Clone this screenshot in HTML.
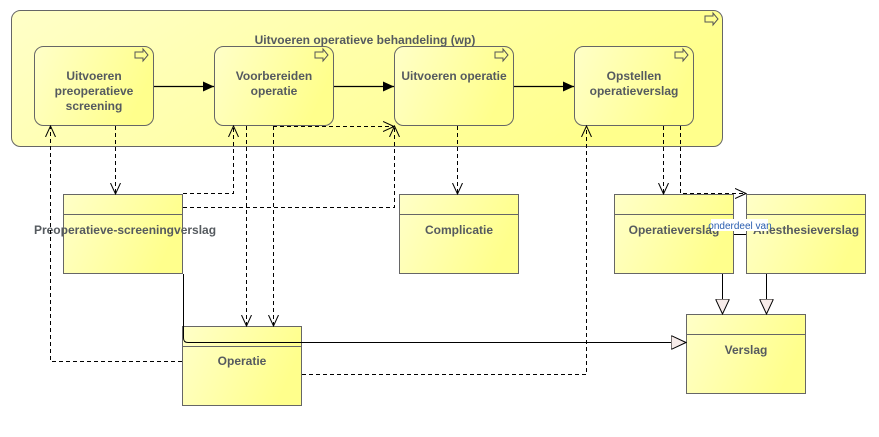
<!DOCTYPE html>
<html><head><meta charset="utf-8"><style>
html,body{margin:0;padding:0;background:#fff;}
svg{display:block;font-family:"Liberation Sans",sans-serif;}
.t{font-size:12px;font-weight:bold;fill:#555a5f;text-anchor:middle;}
</style></head><body>
<svg width="879" height="437" viewBox="0 0 879 437" xmlns="http://www.w3.org/2000/svg">
<defs>
<linearGradient id="g" x1="0" y1="0" x2="1" y2="0.3">
<stop offset="0" stop-color="#ffffc8"/><stop offset="1" stop-color="#ffff8c"/></linearGradient>
<marker id="open" viewBox="0 0 12 12" refX="11" refY="6" markerWidth="12" markerHeight="12" markerUnits="userSpaceOnUse" orient="auto">
<path d="M0,1 L11,6 L0,11" fill="none" stroke="#000" stroke-width="1"/></marker>
<marker id="fill" viewBox="0 0 12 10" refX="11" refY="5" markerWidth="12" markerHeight="10" markerUnits="userSpaceOnUse" orient="auto">
<path d="M0,0 L11,5 L0,10 z" fill="#000"/></marker>
<marker id="tri" viewBox="0 0 16 14" refX="15" refY="7" markerWidth="16" markerHeight="14" markerUnits="userSpaceOnUse" orient="auto">
<path d="M0,0 L15,7 L0,14 z" fill="#f7ecea" stroke="#000" stroke-width="1"/></marker>
</defs>

<!-- group -->
<rect x="11.5" y="10.5" width="711" height="136" rx="9" fill="url(#g)" stroke="#666" />
<path d="M705,16 h8 v-3 l5,6 l-5,6 v-3 h-8 z" fill="none" stroke="#555"/>
<text class="t" x="365" y="44">Uitvoeren operatieve behandeling (wp)</text>

<!-- processes -->
<g stroke="#666" fill="url(#g)">
<rect x="34.5" y="46.5" width="119" height="79" rx="9"/>
<rect x="214.5" y="46.5" width="119" height="79" rx="9"/>
<rect x="394.5" y="46.5" width="119" height="79" rx="9"/>
<rect x="574.5" y="46.5" width="119" height="79" rx="9"/>
</g>
<g fill="none" stroke="#555">
<path d="M135,52 h8 v-3 l5,6 l-5,6 v-3 h-8 z"/>
<path d="M315,52 h8 v-3 l5,6 l-5,6 v-3 h-8 z"/>
<path d="M495,52 h8 v-3 l5,6 l-5,6 v-3 h-8 z"/>
<path d="M675,52 h8 v-3 l5,6 l-5,6 v-3 h-8 z"/>
</g>
<text class="t" x="94" y="80">Uitvoeren</text>
<text class="t" x="94" y="95">preoperatieve</text>
<text class="t" x="94" y="110">screening</text>
<text class="t" x="274" y="80">Voorbereiden</text>
<text class="t" x="274" y="95">operatie</text>
<text class="t" x="454" y="80">Uitvoeren operatie</text>
<text class="t" x="634" y="80">Opstellen</text>
<text class="t" x="634" y="95">operatieverslag</text>

<g stroke="#000" stroke-width="1.2" fill="none">
<line x1="154" y1="86.5" x2="214" y2="86.5" marker-end="url(#fill)"/>
<line x1="334" y1="86.5" x2="394" y2="86.5" marker-end="url(#fill)"/>
<line x1="514" y1="86.5" x2="574" y2="86.5" marker-end="url(#fill)"/>
</g>

<!-- objects -->
<g stroke="#666" fill="url(#g)">
<rect x="63.5" y="194.5" width="119" height="79"/>
<rect x="399.5" y="194.5" width="119" height="79"/>
<rect x="614.5" y="194.5" width="119" height="79"/>
<rect x="746.5" y="194.5" width="119" height="79"/>
<rect x="686.5" y="314.5" width="119" height="79"/>
<rect x="182.5" y="326.5" width="119" height="79"/>
</g>
<g stroke="#666">
<line x1="63" y1="214.5" x2="183" y2="214.5"/>
<line x1="399" y1="214.5" x2="519" y2="214.5"/>
<line x1="614" y1="214.5" x2="734" y2="214.5"/>
<line x1="746" y1="214.5" x2="866" y2="214.5"/>
<line x1="686" y1="334.5" x2="806" y2="334.5"/>
<line x1="182" y1="346.5" x2="302" y2="346.5"/>
</g>
<text class="t" x="125" y="234">Preoperatieve-screeningverslag</text>
<text class="t" x="459" y="234">Complicatie</text>
<text class="t" x="674" y="234">Operatieverslag</text>
<text class="t" x="806" y="234">Anesthesieverslag</text>
<text class="t" x="746" y="354">Verslag</text>
<text class="t" x="242" y="365">Operatie</text>

<!-- dashed connectors -->
<g stroke="#000" stroke-width="1" fill="none" stroke-dasharray="4,3">
<line x1="115.5" y1="126" x2="115.5" y2="194" marker-end="url(#open)"/>
<path d="M183,193.5 H233.5 V126" marker-end="url(#open)"/>
<path d="M183,207.5 H394.5 V126" marker-end="url(#open)"/>
<path d="M273.5,126 V126.5 H394" marker-end="url(#open)"/>
<line x1="246.5" y1="126" x2="246.5" y2="326" marker-end="url(#open)"/>
<line x1="273.5" y1="126" x2="273.5" y2="326" marker-end="url(#open)"/>
<path d="M182,361.5 H50.5 V126" marker-end="url(#open)"/>
<path d="M302,374.5 H586.5 V126" marker-end="url(#open)"/>
<line x1="457.5" y1="126" x2="457.5" y2="194" marker-end="url(#open)"/>
<line x1="663.5" y1="126" x2="663.5" y2="194" marker-end="url(#open)"/>
<path d="M680.5,126 V193.5 H746" marker-end="url(#open)"/>
</g>

<!-- solid connectors -->
<g stroke="#000" stroke-width="1" fill="none">
<path d="M183.5,274 V338 Q183.5,342.5 188,342.5 H686" marker-end="url(#tri)"/>
<line x1="722.5" y1="274" x2="722.5" y2="314" marker-end="url(#tri)"/>
<line x1="766.5" y1="274" x2="766.5" y2="314" marker-end="url(#tri)"/>
<line x1="734" y1="234.5" x2="746" y2="234.5"/>
</g>
<rect x="711" y="219" width="57" height="12" fill="#fff"/>
<text x="740" y="229" font-size="10" fill="#2a5db0" text-anchor="middle">onderdeel van</text>
</svg>
</body></html>
